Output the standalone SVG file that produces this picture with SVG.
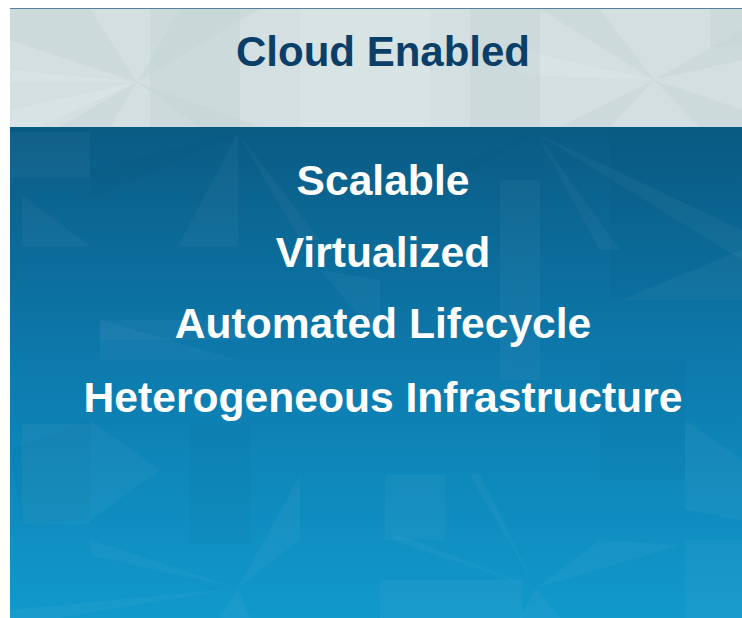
<svg xmlns="http://www.w3.org/2000/svg" width="742" height="618" viewBox="0 0 742 618">
  <defs>
    <linearGradient id="blueGrad" x1="0" y1="0" x2="0" y2="1">
      <stop offset="0" stop-color="#0a5b84"/>
      <stop offset="0.5" stop-color="#0d7bae"/>
      <stop offset="1" stop-color="#1199cc"/>
    </linearGradient>
    <clipPath id="headClip"><rect x="10" y="9" width="732" height="118"/></clipPath>
    <clipPath id="bodyClip"><rect x="10" y="127" width="732" height="491"/></clipPath>
    <style>
      .title { font-family: "Liberation Sans", Arial, sans-serif; font-weight: bold; font-size: 42px; fill: #0b3f68; text-anchor: middle; }
      .item { font-family: "Liberation Sans", Arial, sans-serif; font-weight: bold; font-size: 42.6px; fill: #ffffff; text-anchor: middle; }
      .hd { fill: #c4d3d5; opacity: 0.4; }
      .hl { fill: #e2eaeb; opacity: 0.35; }
      .bl { fill: #ffffff; opacity: 0.035; }
      .bd { fill: #003a5c; opacity: 0.045; }
    </style>
  </defs>

  <rect x="0" y="0" width="742" height="618" fill="#ffffff"/>

  <g id="header">
    <rect x="10" y="9" width="732" height="118" fill="#d3dfe0"/>
    <g clip-path="url(#headClip)">
      <polygon class="hd" points="137,82 10,40 10,9 90,9"/>
      <polygon class="hl" points="137,82 10,140 10,110"/>
      <polygon class="hd" points="137,82 180,9 260,9"/>
      <polygon class="hd" points="137,82 200,127 260,127"/>
      <polygon class="hl" points="137,82 10,82 10,70"/>
      <polygon class="hd" points="137,82 60,127 110,127"/>
      <rect class="hd" x="150" y="9" width="90" height="118"/>
      <polygon class="hd" points="654,80 540,9 600,9"/>
      <polygon class="hd" points="654,80 742,30 742,60"/>
      <polygon class="hd" points="654,80 700,127 742,127 742,110"/>
      <polygon class="hl" points="654,80 520,50 520,75"/>
      <polygon class="hd" points="654,80 560,127 610,127"/>
      <rect class="hd" x="470" y="9" width="70" height="118"/>
      <rect class="hd" x="710" y="9" width="32" height="38"/>
      <rect class="hl" x="300" y="9" width="130" height="118"/>
    </g>
    <line x1="10" y1="8.5" x2="742" y2="8.5" stroke="#5a7f9b" stroke-width="1"/>
    <text class="title" x="383" y="66">Cloud Enabled</text>
  </g>

  <g id="body">
    <rect x="10" y="127" width="732" height="491" fill="url(#blueGrad)"/>
    <g clip-path="url(#bodyClip)">
      <rect class="bl" x="10" y="132" width="80" height="46"/>
      <polygon class="bl" points="22,195 90,246 22,246"/>
      <polygon class="bl" points="238,133 178,246 238,246"/>
      <polygon class="bd" points="238,133 90,170 90,200"/>
      <polygon class="bl" points="238,133 300,240 320,240"/>
      <polygon class="bd" points="536,133 420,180 440,190"/>
      <polygon class="bl" points="536,133 600,250 620,250"/>
      <polygon class="bl" points="536,133 742,230 742,260"/>
      <rect class="bl" x="500" y="180" width="40" height="200"/>
      <rect class="bd" x="610" y="130" width="132" height="170"/>
      <polygon class="bl" points="620,300 742,250 742,300"/>
      <polygon class="bl" points="320,270 380,340 380,280"/>
      <rect class="bl" x="100" y="320" width="150" height="20"/>
      <polygon class="bl" points="100,320 238,360 100,360"/>
      <polygon class="bd" points="10,450 90,420 90,520 22,525"/>
      <rect class="bl" x="22" y="424" width="68" height="100"/>
      <polygon class="bl" points="90,420 160,470 90,520"/>
      <rect class="bd" x="190" y="424" width="60" height="120"/>
      <polygon class="bl" points="238,588 300,475 300,540"/>
      <polygon class="bl" points="238,588 90,540 90,555"/>
      <polygon class="bl" points="238,588 10,610 10,618 60,618"/>
      <polygon class="bl" points="238,588 220,618 250,618"/>
      <rect class="bl" x="385" y="475" width="60" height="65"/>
      <polygon class="bl" points="536,588 470,475 480,475"/>
      <polygon class="bl" points="536,588 600,540 680,545"/>
      <polygon class="bl" points="536,588 390,540 400,535"/>
      <polygon class="bl" points="536,588 520,618 560,618"/>
      <rect class="bd" x="600" y="360" width="85" height="120"/>
      <polygon class="bl" points="685,420 742,460 742,520 685,510"/>
      <rect class="bl" x="685" y="540" width="57" height="78"/>
      <rect class="bl" x="380" y="580" width="142" height="38"/>
    </g>
  </g>

  <g id="items">
    <text class="item" x="383" y="195">Scalable</text>
    <text class="item" x="383" y="267">Virtualized</text>
    <text class="item" x="383" y="338">Automated Lifecycle</text>
    <text class="item" x="383" y="412">Heterogeneous Infrastructure</text>
  </g>
</svg>
